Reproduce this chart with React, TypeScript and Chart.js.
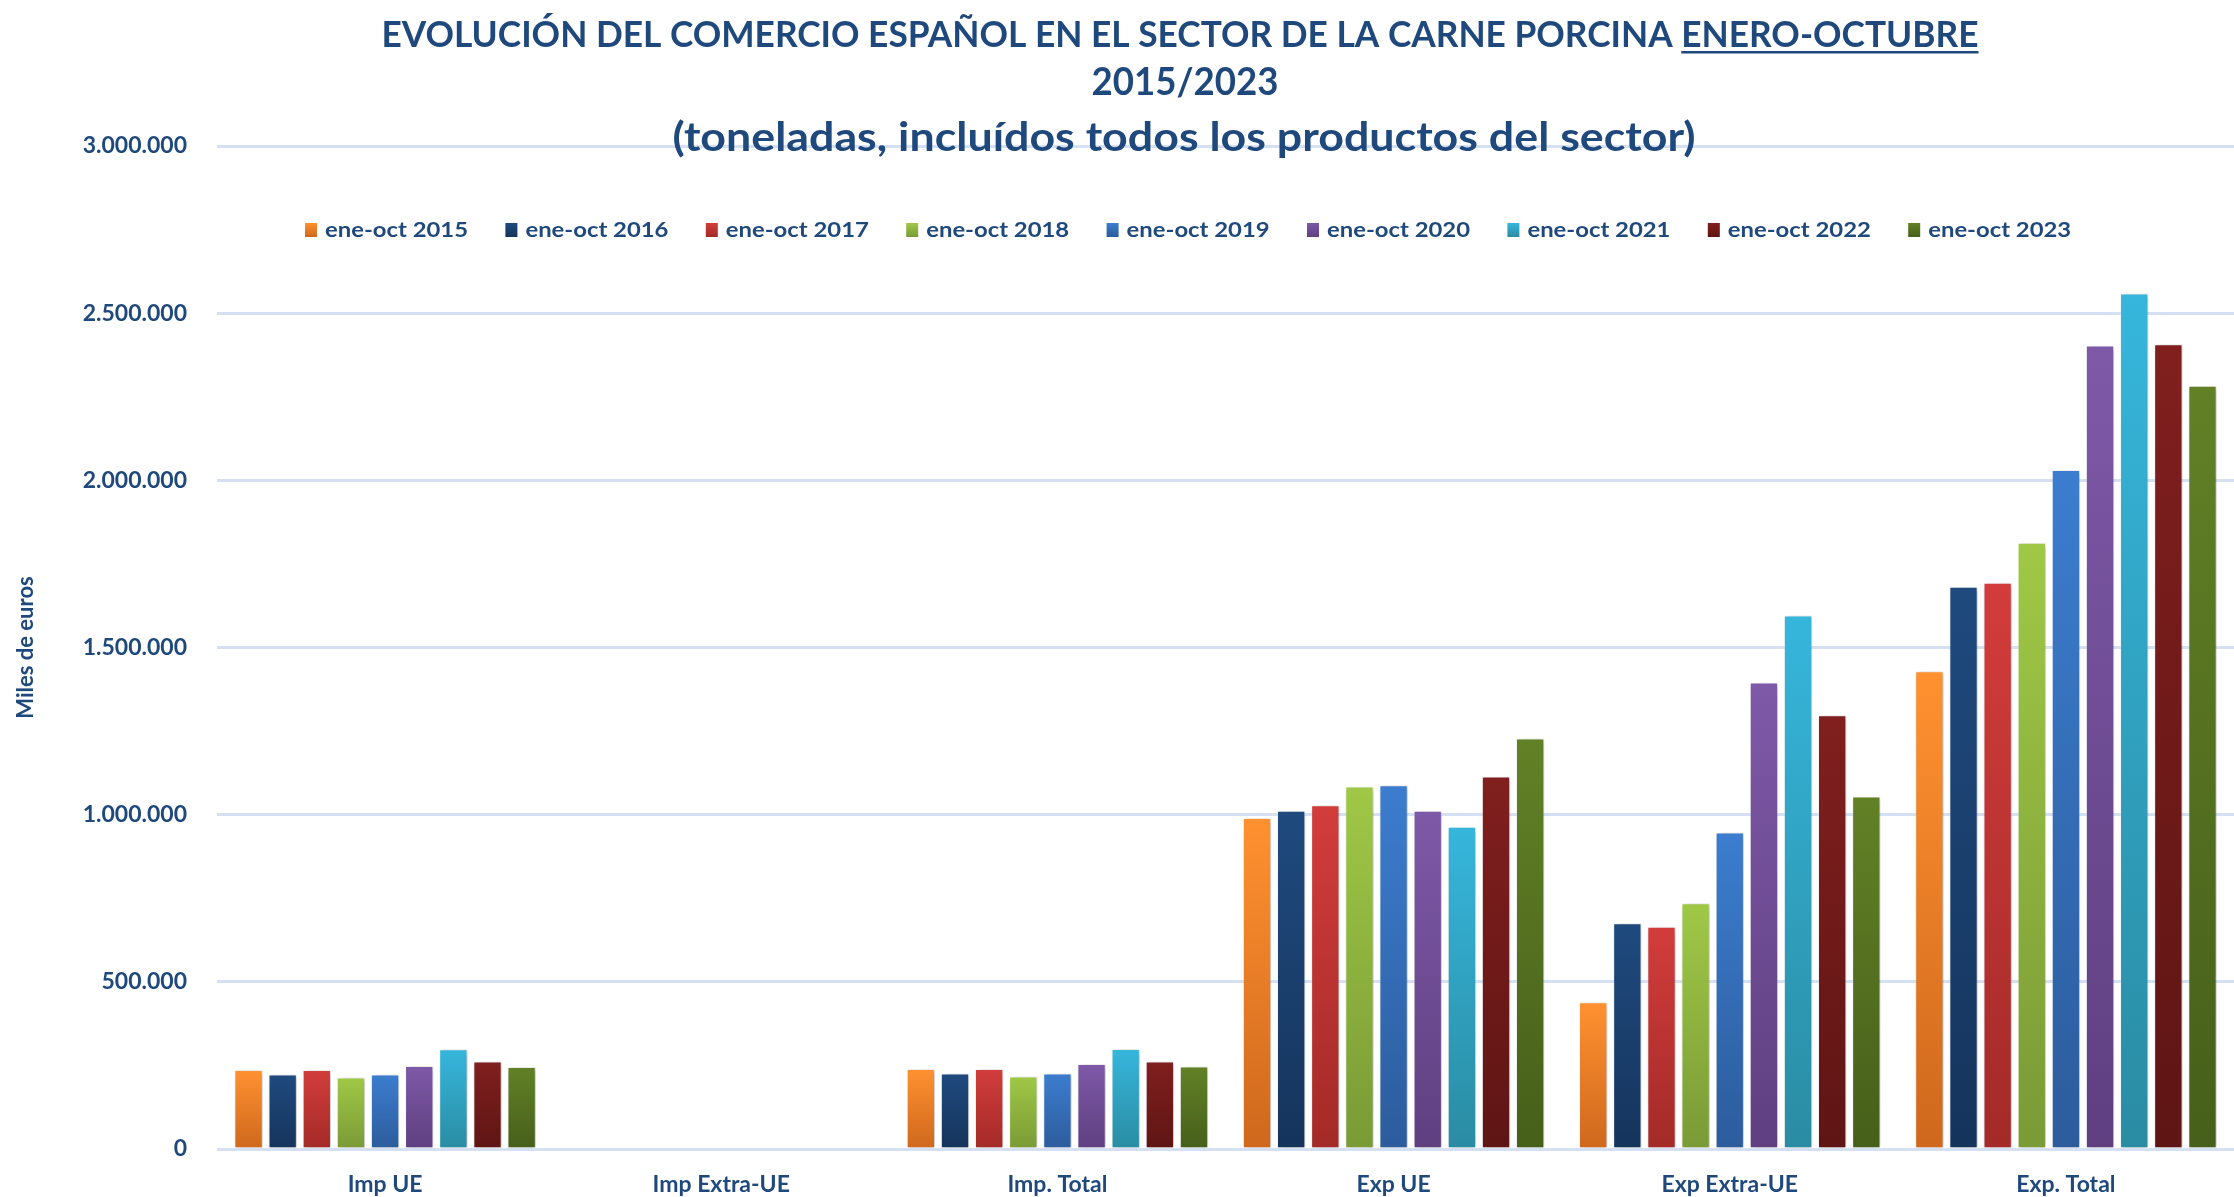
import React, { useEffect, useRef } from 'react';
import { Chart, registerables } from 'chart.js';

Chart.register(...registerables);

// ---------- DATA ----------
const CATEGORIES = ['Imp UE', 'Imp Extra-UE', 'Imp. Total', 'Exp UE', 'Exp Extra-UE', 'Exp. Total'];
const SERIES_LABELS = [
  'ene-oct 2015', 'ene-oct 2016', 'ene-oct 2017', 'ene-oct 2018', 'ene-oct 2019',
  'ene-oct 2020', 'ene-oct 2021', 'ene-oct 2022', 'ene-oct 2023',
];
const V2015 = [236000, 0, 239000, 990000, 439000, 1429000];
const V2016 = [223000, 0, 226000, 1012000, 675000, 1682000];
const V2017 = [236000, 0, 239000, 1028000, 665000, 1694000];
const V2018 = [214000, 0, 217000, 1084000, 735000, 1813000];
const V2019 = [223000, 0, 226000, 1088000, 947000, 2031000];
const V2020 = [248000, 0, 254000, 1012000, 1395000, 2403000];
const V2021 = [298000, 0, 299000, 964000, 1596000, 2559000];
const V2022 = [262000, 0, 262000, 1114000, 1297000, 2407000];
const V2023 = [245000, 0, 247000, 1228000, 1054000, 2283000];
const SERIES_VALUES = [V2015, V2016, V2017, V2018, V2019, V2020, V2021, V2022, V2023];

const Y_MIN = 0;
const Y_MAX = 3000000;
const Y_STEP = 500000;

const TITLE_MAIN = 'EVOLUCIÓN DEL COMERCIO ESPAÑOL EN EL SECTOR DE LA CARNE PORCINA';
const TITLE_PERIOD = 'ENERO-OCTUBRE';
const TITLE_YEARS = '2015/2023';
const TITLE_UNITS = '(toneladas, incluídos todos los productos del sector)';
const Y_TITLE = 'Miles de euros';

// ---------- STYLE ----------
const COLORS_TOP = ['#FF9130', '#1F4A7E', '#D23D3B', '#A0C846', '#3C7DCF', '#7E59A8', '#36B6DC', '#801F1E', '#628126'];
const COLORS_BOTTOM = ['#CF681D', '#15345C', '#A32A28', '#7A9A36', '#2C5C9C', '#5F3F80', '#2A8CA3', '#5E1514', '#465F1A'];
const TEXT_COLOR = '#1F497D';
const FONT = "Lato, 'DejaVu Sans', sans-serif";

const fmt = (v: number) => Math.round(v).toString().replace(/\B(?=(\d{3})+(?!\d))/g, '.');

function fitText(ctx: CanvasRenderingContext2D, text: string, x: number, baseline: number, size: number, targetW: number, align: 'center' | 'left') {
  ctx.save();
  ctx.font = `bold ${size}px ${FONT}`;
  ctx.textBaseline = 'alphabetic';
  ctx.textAlign = 'left';
  const w = ctx.measureText(text).width;
  const sx = targetW / w;
  const left = align === 'center' ? x - targetW / 2 : x;
  ctx.translate(left, baseline);
  ctx.scale(sx, 1);
  ctx.fillText(text, 0, 0);
  ctx.restore();
  return { left, sx, natural: w };
}

const overlayPlugin = {
  id: 'overlay',
  afterDraw(chart: any) {
    const ctx: CanvasRenderingContext2D = chart.ctx;
    ctx.save();
    ctx.fillStyle = TEXT_COLOR;
    const line1 = TITLE_MAIN + ' ' + TITLE_PERIOD;
    const r = fitText(ctx, line1, 1180, 47, 36, 1597, 'center');
    ctx.font = `bold 36px ${FONT}`;
    const pw = ctx.measureText(TITLE_PERIOD).width * r.sx;
    const endX = r.left + 1597;
    ctx.fillRect(endX - pw, 51, pw, 2.5);
    fitText(ctx, TITLE_YEARS, 1185, 95, 38, 187, 'center');
    fitText(ctx, TITLE_UNITS, 1184, 151, 40, 1023, 'center');

    const startX = 305;
    const step = 200.4;
    SERIES_LABELS.forEach((lab, i) => {
      const x = startX + i * step;
      const g = ctx.createLinearGradient(0, 223, 0, 237);
      g.addColorStop(0, COLORS_TOP[i]);
      g.addColorStop(1, COLORS_BOTTOM[i]);
      ctx.fillStyle = g;
      ctx.fillRect(x, 223, 12, 14);
      ctx.fillStyle = TEXT_COLOR;
      fitText(ctx, lab, x + 20, 237, 21, 143, 'left');
    });
    ctx.restore();
  },
};

const shadowPlugin = {
  id: 'barShadow',
  beforeDatasetsDraw(chart: any) {
    const ctx = chart.ctx;
    ctx.save();
    ctx.shadowColor = 'rgba(0,0,0,0.28)';
    ctx.shadowBlur = 5;
    ctx.shadowOffsetX = 2;
    ctx.shadowOffsetY = 1;
  },
  afterDatasetsDraw(chart: any) {
    chart.ctx.restore();
  },
};

function barHeightPx(c: any): number {
  const scales = c.chart && c.chart.scales;
  if (!scales || !scales.y || c.type !== 'data') return 100;
  const h = Math.abs(scales.y.getPixelForValue(0) - scales.y.getPixelForValue(c.raw as number));
  return isFinite(h) ? h : 100;
}

export default function App() {
  const ref = useRef<HTMLCanvasElement | null>(null);

  useEffect(() => {
    if (!ref.current) return;
    const datasets = SERIES_LABELS.map((label, i) => ({
      label,
      data: SERIES_VALUES[i],
      backgroundColor: (c: any) => {
        const chart = c.chart;
        const { chartArea, scales } = chart;
        if (!chartArea || c.type !== 'data' || !scales || !scales.y) return COLORS_TOP[i];
        const v = c.raw as number;
        const yTop = scales.y.getPixelForValue(v);
        const yBase = scales.y.getPixelForValue(0);
        if (!isFinite(yTop) || !isFinite(yBase) || Math.abs(yBase - yTop) < 0.5) return 'rgba(0,0,0,0)';
        const g = chart.ctx.createLinearGradient(0, yTop, 0, yBase);
        g.addColorStop(0, COLORS_TOP[i]);
        g.addColorStop(1, COLORS_BOTTOM[i]);
        return g;
      },
      borderColor: 'rgba(255,255,255,0.35)',
      borderWidth: (c: any) => (barHeightPx(c) < 3 ? 0 : 1),
      categoryPercentage: 0.914,
      barPercentage: 0.83,
    }));

    const chart = new Chart(ref.current, {
      type: 'bar',
      data: { labels: CATEGORIES, datasets },
      options: {
        animation: false,
        responsive: false,
        maintainAspectRatio: false,
        devicePixelRatio: 1,
        layout: { padding: { top: 146, left: 0, right: 0, bottom: 0 } },
        plugins: {
          legend: { display: false },
          title: { display: false },
          tooltip: { enabled: false },
        },
        scales: {
          x: {
            grid: { display: false, drawTicks: false },
            border: { display: false },
            ticks: {
              color: TEXT_COLOR,
              font: { family: FONT, size: 23, weight: 'bold' },
              padding: 22,
              maxRotation: 0,
            },
            afterFit: (s: any) => { s.height = 48; },
          },
          y: {
            min: Y_MIN,
            max: Y_MAX,
            grid: { color: '#D5E1F2', lineWidth: 3, drawTicks: false },
            border: { display: false },
            ticks: {
              stepSize: Y_STEP,
              color: TEXT_COLOR,
              font: { family: FONT, size: 23, weight: 'bold' },
              padding: 30,
              callback: (v: any) => fmt(Number(v)),
            },
            title: {
              display: true,
              text: Y_TITLE,
              color: TEXT_COLOR,
              font: { family: FONT, size: 22, weight: 'bold' },
              padding: { top: 13, bottom: 0 },
            },
            afterFit: (s: any) => { s.width = 217; },
          },
        },
      },
      plugins: [shadowPlugin, overlayPlugin],
    });
    return () => chart.destroy();
  }, []);

  return (
    <div style={{ position: 'absolute', left: 0, top: 0, width: 2234, height: 1197, background: '#FFFFFF' }}>
      <canvas ref={ref} width={2234} height={1197} style={{ display: 'block', width: 2234, height: 1197 }} />
    </div>
  );
}
